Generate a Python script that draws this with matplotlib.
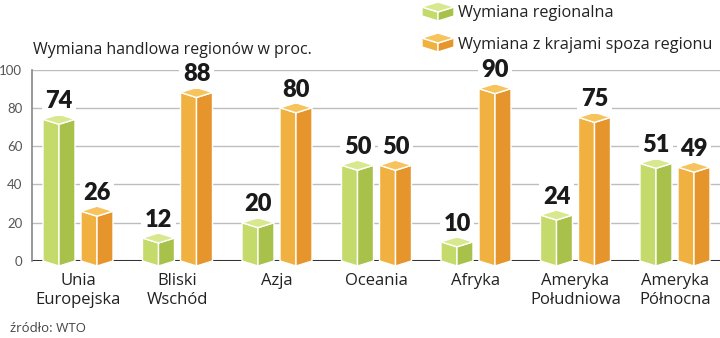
import matplotlib
matplotlib.use("Agg")
import matplotlib.pyplot as plt
from matplotlib.patches import Polygon
import numpy as np

plt.rcParams['font.family'] = ['Open Sans', 'DejaVu Sans']

categories = ["Unia\nEuropejska", "Bliski\nWschód", "Azja", "Oceania",
              "Afryka", "Ameryka\nPołudniowa", "Ameryka\nPółnocna"]
regional = [74, 12, 20, 50, 10, 24, 51]
outside = [26, 88, 80, 50, 90, 75, 49]
yticks = [0, 20, 40, 60, 80, 100]
series_names = ["Wymiana regionalna", "Wymiana z krajami spoza regionu"]
title = "Wymiana handlowa regionów w proc."
source = "źródło: WTO"

green = dict(top="#d7e88f", left="#c4da6b", right="#a8c14b")
orange = dict(top="#f6c35c", left="#f1b141", right="#e6952d")

W, H = 720, 338
fig = plt.figure(figsize=(W / 100, H / 100), dpi=100)

# axes: from x=32px to right edge; value 0 at 261px, 100 at 69.5px from top
ax_left, ax_bottom = 32 / W, (H - 261) / H
ax = fig.add_axes([ax_left, ax_bottom, 1 - ax_left, (261 - 69.5) / H])
ax.set_ylim(0, 100)
group_px = 99.5
first_center_px = 78
ax.set_xlim((32 - first_center_px) / group_px, (720 - first_center_px) / group_px)

px_per_unit = (261 - 69.5) / 100
depth = 5 / px_per_unit          # perspective drop of the box edges, in data units
bar_w = 32 / group_px
offset = 19 / group_px

for s in ax.spines.values():
    s.set_visible(False)
ax.set_xticks([])
ax.set_yticks(yticks)
ax.set_yticklabels([str(t) for t in yticks], fontsize=9.5, color="#555555",
                   fontfamily=['Lato', 'DejaVu Sans'])
ax.tick_params(axis="y", length=0, pad=7)
for t in yticks[1:]:
    ax.axhline(t, color="#bdbdbd", lw=1.0, zorder=0)
ax.axhline(0, color="#333333", lw=2.2, zorder=1)
ax.plot([ax.get_xlim()[0]] * 2, [0, 100], color="#888888", lw=1.2,
        clip_on=False, zorder=1, transform=ax.transData)


def draw_box(x_center, value, colors):
    l, c, r = x_center - bar_w / 2, x_center, x_center + bar_w / 2
    faces = [
        ([(l, 0), (l, value), (c, value - depth), (c, -depth)], colors["left"]),
        ([(c, -depth), (c, value - depth), (r, value), (r, 0)], colors["right"]),
        ([(l, value), (c, value - depth), (r, value), (c, value + depth)], colors["top"]),
    ]
    for pts, col in faces:
        ax.add_patch(Polygon(pts, closed=True, facecolor=col, edgecolor="white",
                             lw=1.0, clip_on=False, zorder=3, joinstyle="round"))
    ax.text(c, value + depth + 1.2, str(value), ha="center", va="bottom",
            fontsize=17, fontweight="heavy", color="#1a1a1a", zorder=4,
            fontfamily=['Lato', 'DejaVu Sans'],
            bbox=dict(boxstyle="square,pad=0.15", fc="white", ec="none"))


x = np.arange(len(categories))
for i in x:
    draw_box(i - offset, regional[i], green)
    draw_box(i + offset, outside[i], orange)
    ax.text(i, -6.5, categories[i], ha="center", va="top", fontsize=12,
            color="#222222", linespacing=1.18, clip_on=False)

fig.text(33 / W, 1 - 50 / H, title, ha="left", va="center", fontsize=11.5,
         color="#222222")
fig.text(10 / W, 1 - 329 / H, source, ha="left", va="center", fontsize=9.5,
         color="#444444")


# legend with small flat boxes
def legend_box(x0, y0, w, h_top, h_side, colors):
    # pixel coordinates from the top-left corner
    def P(px, py):
        return (px / W, 1 - py / H)
    xc = x0 + w / 2
    top = [P(x0, y0 + h_top / 2), P(xc, y0), P(x0 + w, y0 + h_top / 2), P(xc, y0 + h_top)]
    leftf = [P(x0, y0 + h_top / 2), P(xc, y0 + h_top), P(xc, y0 + h_top + h_side),
             P(x0, y0 + h_top / 2 + h_side)]
    rightf = [P(xc, y0 + h_top), P(x0 + w, y0 + h_top / 2),
              P(x0 + w, y0 + h_top / 2 + h_side), P(xc, y0 + h_top + h_side)]
    for pts, col in [(leftf, colors["left"]), (rightf, colors["right"]), (top, colors["top"])]:
        fig.patches.append(Polygon(pts, closed=True, facecolor=col, edgecolor="white",
                                   lw=1.0, transform=fig.transFigure))


legend_box(422, 2, 32, 10, 9, green)
legend_box(422, 33, 32, 10, 9, orange)
fig.text(458 / W, 1 - 13 / H, series_names[0], ha="left", va="center",
         fontsize=11.7, color="#222222")
fig.text(458 / W, 1 - 45 / H, series_names[1], ha="left", va="center",
         fontsize=11.7, color="#222222")

fig.savefig("out.png", dpi=100, facecolor="white")
